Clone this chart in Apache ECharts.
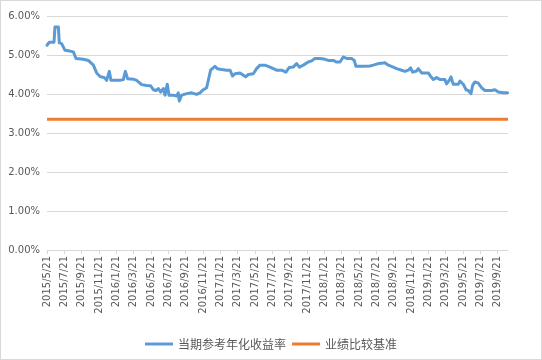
<!DOCTYPE html>
<html>
<head>
<meta charset="utf-8">
<script src="https://cdn.jsdelivr.net/npm/echarts@6/dist/echarts.min.js"></script>
<style>
html,body{margin:0;padding:0;background:#fff;}
#box{width:542px;height:360px;box-sizing:border-box;border:1px solid #d9d9d9;position:relative;}
#chart{position:absolute;left:-1px;top:-1px;width:542px;height:360px;}
</style>
</head>
<body>
<div id="box"><div id="chart"></div></div>
<script>
// Tick labels (every 2 months, starting 2015/5/21)
const tickLabels = ['2015/5/21','2015/7/21','2015/9/21','2015/11/21','2016/1/21','2016/3/21','2016/5/21','2016/7/21','2016/9/21','2016/11/21','2017/1/21','2017/3/21','2017/5/21','2017/7/21','2017/9/21','2017/11/21','2018/1/21','2018/3/21','2018/5/21','2018/7/21','2018/9/21','2018/11/21','2019/1/21','2019/3/21','2019/5/21','2019/7/21','2019/9/21'];
const seriesNames = ['当期参考年化收益率', '业绩比较基准'];
// Position of each observation, in months after 2015/5/21
const yieldMonths = [0,0.27,0.81,0.92,1.31,1.42,1.69,2.08,2.65,3.04,3.35,4.19,4.77,5.35,5.73,6.12,6.62,6.88,7.19,7.38,8.42,8.81,9.04,9.31,9.96,10.35,10.92,11.5,11.96,12.27,12.58,12.85,13.12,13.42,13.62,13.88,14.08,14.58,14.96,15.15,15.27,15.54,16.12,16.69,17.27,17.65,18.04,18.42,18.62,18.88,19.38,19.65,20.15,20.73,21.12,21.42,21.69,22.27,22.46,22.92,23.23,23.81,24.19,24.58,25.15,25.73,26.5,27.08,27.27,27.58,27.96,28.42,28.81,29.12,29.58,30.15,30.54,30.92,31.5,32.08,32.46,33.04,33.42,33.81,34.19,34.58,35.15,35.46,35.65,36.5,37.27,37.65,37.85,38.23,38.62,38.81,39.0,39.38,39.96,40.35,40.92,41.31,41.69,41.96,42.19,42.65,42.85,43.23,44.0,44.31,44.58,44.96,45.35,45.92,46.12,46.42,46.62,46.88,47.46,47.65,48.04,48.35,48.62,48.92,49.12,49.38,49.77,50.15,50.54,51.31,51.69,52.08,52.65,53.15];
// 当期参考年化收益率 (%)
const yieldValues = [5.25,5.33,5.33,5.72,5.72,5.31,5.29,5.12,5.10,5.08,4.91,4.89,4.86,4.74,4.54,4.45,4.42,4.35,4.58,4.35,4.35,4.37,4.58,4.39,4.38,4.35,4.24,4.22,4.21,4.11,4.09,4.14,4.05,4.14,3.97,4.25,3.97,3.97,3.95,4.03,3.82,3.97,4.01,4.03,3.99,4.03,4.11,4.16,4.16,4.61,4.71,4.65,4.63,4.61,4.61,4.46,4.52,4.54,4.58,4.44,4.50,4.52,4.65,4.74,4.74,4.69,4.61,4.61,4.65,4.56,4.68,4.69,4.78,4.69,4.74,4.82,4.85,4.91,4.91,4.89,4.86,4.86,4.82,4.82,4.95,4.91,4.91,4.86,4.71,4.71,4.72,4.74,4.69,4.78,4.79,4.76,4.80,4.74,4.69,4.65,4.61,4.58,4.61,4.67,4.56,4.59,4.65,4.54,4.54,4.44,4.37,4.42,4.37,4.37,4.26,4.35,4.44,4.25,4.25,4.33,4.25,4.11,4.09,4.01,4.22,4.31,4.28,4.16,4.09,4.09,4.11,4.05,4.03,4.03];
// 业绩比较基准 (%)
const benchMonths = [0, 53.2];
const benchValues = [3.35, 3.35];

const xMax = 53.2;
const tickPositions = tickLabels.map((_, i) => i * 2);

const chart = echarts.init(document.getElementById('chart'), null, {renderer: 'canvas'});
chart.setOption({
  animation: false,
  backgroundColor: 'transparent',
  grid: {left: 47, top: 16, width: 461, height: 234, containLabel: false, outerBoundsMode: 'none'},
  legend: {
    data: seriesNames,
    left: 'center',
    top: 333,
    icon: 'rect',
    itemWidth: 28,
    itemHeight: 3,
    itemGap: 6,
    textStyle: {fontFamily: 'Noto Sans CJK SC', fontSize: 12, color: '#595959'}
  },
  xAxis: {
    type: 'value',
    min: 0,
    max: xMax,
    splitLine: {show: false},
    axisLine: {show: true, lineStyle: {color: '#d9d9d9', width: 1}},
    axisTick: {show: true, customValues: tickPositions, length: 4, lineStyle: {color: '#d9d9d9'}},
    axisLabel: {
      customValues: tickPositions,
      rotate: 90,
      margin: 6,
      fontFamily: 'DejaVu Sans',
      fontSize: 10,
      color: '#595959',
      formatter: v => tickLabels[Math.round(v / 2)] || ''
    }
  },
  yAxis: {
    type: 'value',
    min: 0,
    max: 6,
    interval: 1,
    axisLine: {show: false},
    axisTick: {show: false},
    splitLine: {lineStyle: {color: '#d9d9d9', width: 1}},
    axisLabel: {
      margin: 7,
      fontFamily: 'DejaVu Sans',
      fontSize: 10,
      color: '#595959',
      formatter: v => v.toFixed(2) + '%'
    }
  },
  series: [
    {
      name: seriesNames[0],
      type: 'line',
      data: yieldMonths.map((m, i) => [m, yieldValues[i]]),
      showSymbol: false,
      symbol: 'none',
      lineStyle: {color: '#5B9BD5', width: 3, cap: 'round', join: 'round'},
      itemStyle: {color: '#5B9BD5'},
      z: 3
    },
    {
      name: seriesNames[1],
      type: 'line',
      data: benchMonths.map((m, i) => [m, benchValues[i]]),
      showSymbol: false,
      symbol: 'none',
      lineStyle: {color: '#ED7D31', width: 3},
      itemStyle: {color: '#ED7D31'},
      z: 2
    }
  ]
});
</script>
</body>
</html>
